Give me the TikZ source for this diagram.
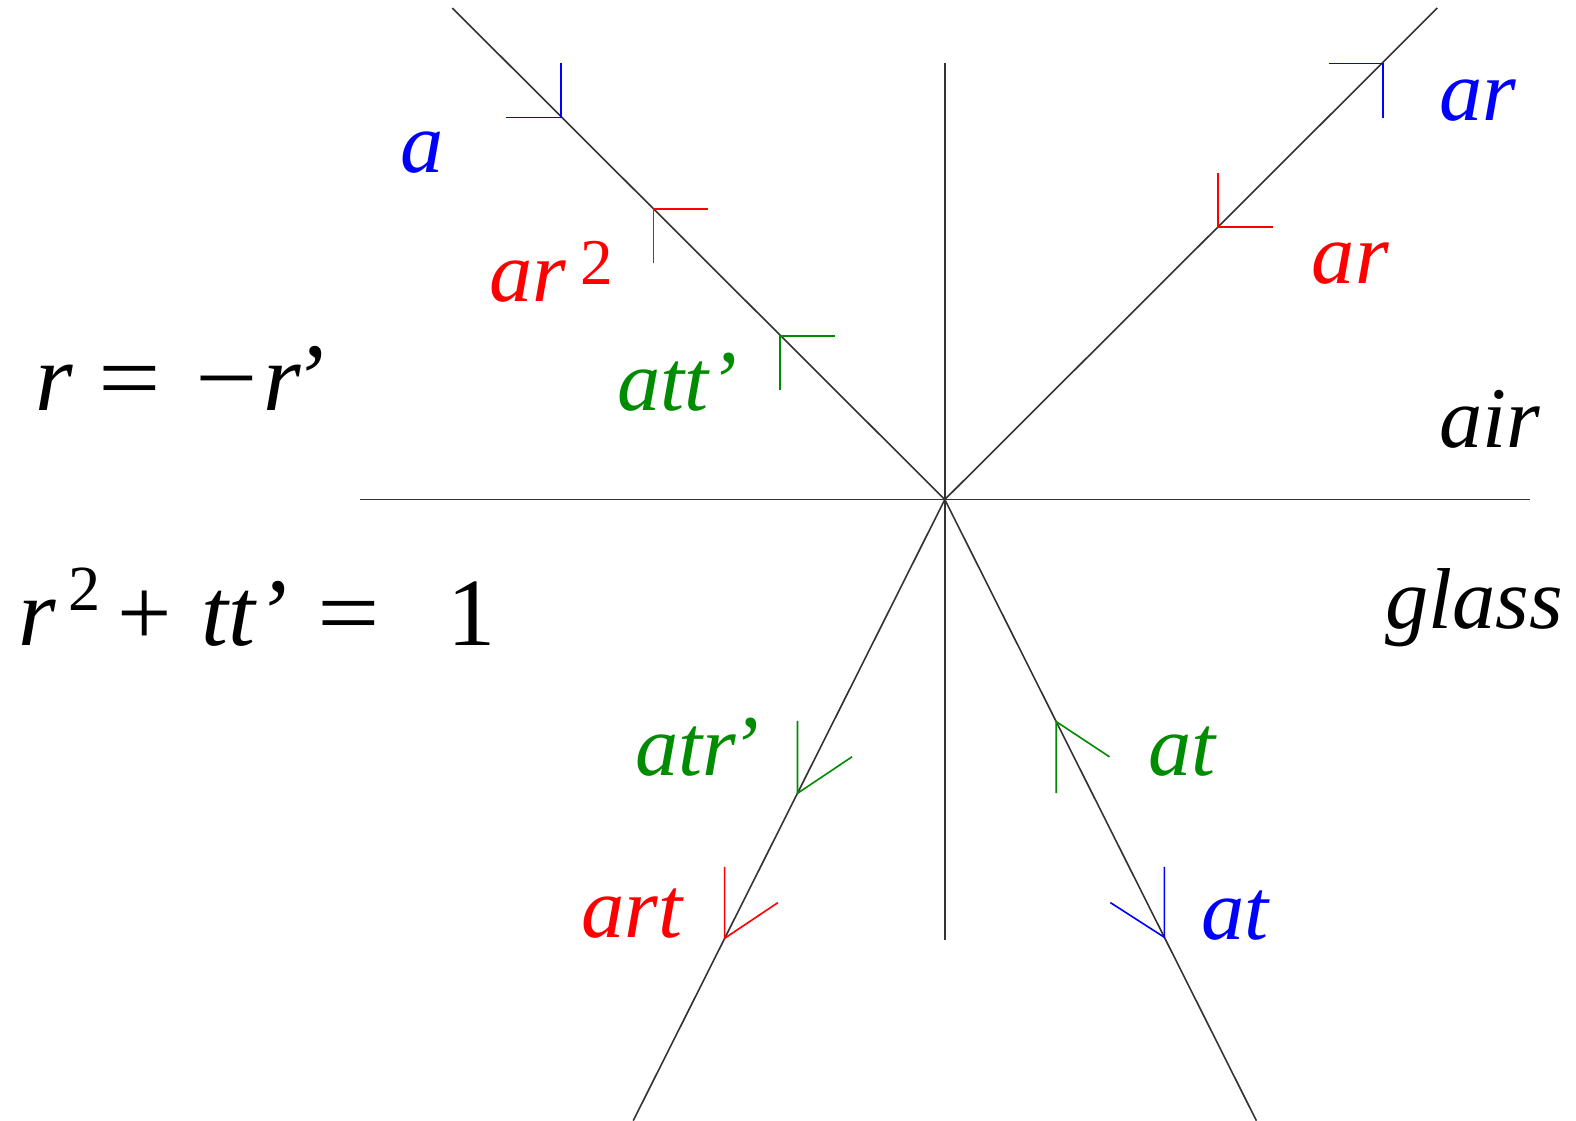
\documentclass[tikz,border=0pt]{standalone}
\usepackage{graphicx}
\usepackage{fontspec}
\newfontfamily\tms{Liberation Serif}
\newcommand\lf{\fontsize{86}{100}\selectfont\tms\itshape}
\newcommand\ef{\fontsize{96}{110}\selectfont\tms\itshape}
\newcommand\wideop[1]{\scalebox{1.15}[1]{\upshape #1}}
\begin{document}
\begin{tikzpicture}[x=1pt,y=-1pt,
  ray/.style={draw=black!80,line width=1.6pt},
  mk/.style={line width=1.6pt},
  lbl/.style={anchor=base west,inner sep=0pt},
  grn/.style={green!55!black},
]
\useasboundingbox (0,0) rectangle (1568,1115);
% rays and axes
\coordinate (O) at (940,497);
\coordinate (TL) at (450,8);
\coordinate (TR) at (1430,8);
\coordinate (BL) at (630,1115);
\coordinate (BR) at (1250,1115);
\coordinate (VT) at (940,63);
\coordinate (VB) at (940,935);
\coordinate (HL) at (358,497);
\coordinate (HR) at (1522,497);
\draw[ray] (TL) -- (O) -- (TR);
\draw[ray] (BL) -- (O) -- (BR);
\draw[ray] (VT) -- (VB);
\draw[ray] (HL) -- (HR);
% half-arrow markers
\coordinate (m1) at (558,117);
\coordinate (m2) at (650,208);
\coordinate (m3) at (776,334);
\coordinate (m4) at (1376,63);
\coordinate (m5) at (1212,226);
\coordinate (m6) at (793.4,789.3);
\coordinate (m7) at (721,933.5);
\coordinate (m8) at (1050.9,718);
\coordinate (m9) at (1158.4,932.5);
\draw[mk,blue] (m1) +(0,-54) -- (m1) -- +(-55,0);
\draw[mk,red] (m2) +(0,54) -- (m2) -- +(54,0);
\draw[mk,grn] (m3) +(0,54) -- (m3) -- +(55,0);
\draw[mk,blue] (m4) +(-54,0) -- (m4) -- +(0,54);
\draw[mk,red] (m5) +(0,-54) -- (m5) -- +(55,0);
\draw[mk,grn] (m6) +(0,-72) -- (m6) -- +(54.4,-36.4);
\draw[mk,red] (m7) +(0,-71) -- (m7) -- +(53,-35.5);
\draw[mk,grn] (m8) +(0,71) -- (m8) -- +(53,35);
\draw[mk,blue] (m9) +(0,-70) -- (m9) -- +(-53.7,-34.5);
% labels
\node[lbl,blue] (la) at (398,172) {\lf a};
\node[lbl,red] (lar2) at (487,300) {\lf ar\hspace{14pt}\raisebox{17pt}{\fontsize{65}{70}\selectfont\tms\upshape 2}};
\node[lbl,grn] (latt) at (614,408) {\lf att’};
\node[lbl,blue] (lar) at (1432,120) {\lf ar};
\node[lbl,red] (lar1) at (1305,282) {\lf ar};
\node[lbl] (lair) at (1432,445) {\lf air};
\node[lbl] (lglass) at (1378,625) {\lf glass};
\node[lbl,grn] (latr) at (632,772) {\lf atr\hspace{-6pt}’};
\node[lbl,red] (lart) at (578,933) {\lf art};
\node[lbl,grn] (lat1) at (1142,772) {\lf at};
\node[lbl,blue] (lat2) at (1195,935) {\lf at};
% equations
\node[lbl] (eq1) at (35,408) {\ef r\hspace{25pt}\wideop{=}\hspace{35pt}\wideop{−}\hspace{5pt}r\hspace{-8pt}’};
\node[lbl] (eq2) at (18,642) {\ef r\hspace{13pt}\raisebox{35pt}{\fontsize{64}{70}\selectfont\tms\upshape 2}\hspace{16pt}{\upshape +}\hspace{30pt}tt’\hspace{30pt}\wideop{=}\hspace{67pt}{\upshape 1}};
\end{tikzpicture}
\end{document}
